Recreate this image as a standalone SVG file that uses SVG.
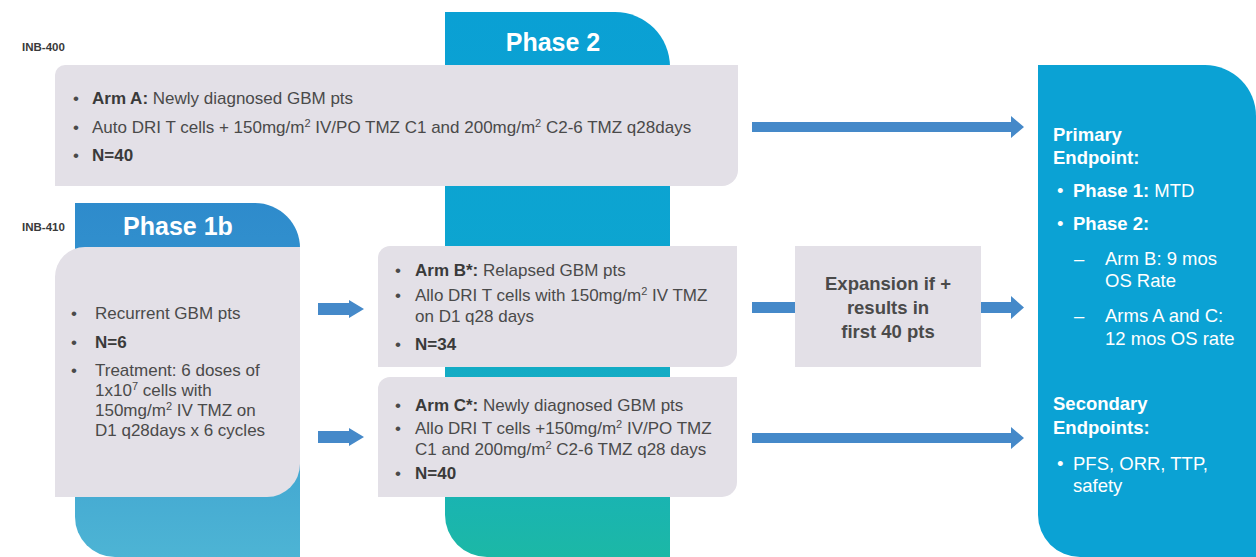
<svg xmlns="http://www.w3.org/2000/svg" width="1256" height="557" viewBox="0 0 1256 557">
<defs>
<linearGradient id="p2grad" gradientUnits="userSpaceOnUse" x1="0" y1="12" x2="0" y2="557">
<stop offset="0" stop-color="#0aa0d4"/>
<stop offset="0.45" stop-color="#0da5d0"/>
<stop offset="0.75" stop-color="#16afc0"/>
<stop offset="1" stop-color="#1cb8a6"/>
</linearGradient>
<linearGradient id="p1grad" gradientUnits="userSpaceOnUse" x1="0" y1="203" x2="0" y2="557">
<stop offset="0" stop-color="#2e8bcc"/>
<stop offset="0.35" stop-color="#3596cf"/>
<stop offset="1" stop-color="#4db4d4"/>
</linearGradient>
<style>
.box{fill:#e3e0e7}
.t{font-family:"Liberation Sans",Arial,sans-serif;font-size:17px;fill:#4a4a4a}
.b{font-weight:bold;fill:#3a3a3a}
.lbl{font-family:"Liberation Sans",Arial,sans-serif;font-size:11.5px;font-weight:bold;fill:#3a3a3a}
.title{font-family:"Liberation Sans",Arial,sans-serif;font-size:25px;font-weight:bold;fill:#fff;text-anchor:middle}
.ep{font-family:"Liberation Sans",Arial,sans-serif;font-size:18.5px;fill:#fff}
.epb{font-weight:bold}
.exp{font-family:"Liberation Sans",Arial,sans-serif;font-size:18.5px;font-weight:bold;fill:#4a4a4a;text-anchor:middle}
.arr{fill:#4589c9}
.sup{font-size:11px}
</style>
</defs>
<rect width="1256" height="557" fill="#ffffff"/>

<g id="phase2-column">
<path d="M445,12 H615 A55,55 0 0 1 670,67 V557 H487 A42,42 0 0 1 445,515 Z" fill="url(#p2grad)"/>
<text class="title" x="553" y="51">Phase 2</text>
</g>

<g id="phase1b-column">
<path d="M75,203 H255 A45,45 0 0 1 300,248 V557 H115 A40,40 0 0 1 75,517 Z" fill="url(#p1grad)"/>
<text class="title" x="178" y="235">Phase 1b</text>
</g>

<g id="inb400">
<text class="lbl" x="22" y="51">INB-400</text>
</g>
<g id="inb410">
<text class="lbl" x="22" y="231">INB-410</text>
</g>

<g id="arm-a">
<path class="box" d="M65,65 H738 V170 A16,16 0 0 1 722,186 H55 V75 A10,10 0 0 1 65,65 Z"/>
<text class="t" x="73" y="104">•</text>
<text class="t" x="92" y="104"><tspan class="b">Arm A:</tspan> Newly diagnosed GBM pts</text>
<text class="t" x="73" y="133">•</text>
<text class="t" x="92" y="133">Auto DRI T cells + 150mg/m<tspan class="sup" dy="-6">2</tspan><tspan dy="6"> IV/PO TMZ C1 and 200mg/m</tspan><tspan class="sup" dy="-6">2</tspan><tspan dy="6"> C2-6 TMZ q28days</tspan></text>
<text class="t" x="73" y="161">•</text>
<text class="t b" x="92" y="161">N=40</text>
</g>

<g id="phase1b-box">
<path class="box" d="M85,247 H300 V464 A33,33 0 0 1 267,497 H55 V277 A30,30 0 0 1 85,247 Z"/>
<text class="t" x="71" y="319">•</text>
<text class="t" x="95" y="319">Recurrent GBM pts</text>
<text class="t" x="71" y="348">•</text>
<text class="t b" x="95" y="348">N=6</text>
<text class="t" x="71" y="376">•</text>
<text class="t" x="95" y="376">Treatment: 6 doses of</text>
<text class="t" x="95" y="396">1x10<tspan class="sup" dy="-6">7</tspan><tspan dy="6"> cells with</tspan></text>
<text class="t" x="95" y="416">150mg/m<tspan class="sup" dy="-6">2</tspan><tspan dy="6"> IV TMZ on</tspan></text>
<text class="t" x="95" y="436">D1 q28days x 6 cycles</text>
</g>

<g id="arm-b">
<path class="box" d="M390,246 H737 V352 A15,15 0 0 1 722,367 H378 V258 A12,12 0 0 1 390,246 Z"/>
<text class="t" x="395" y="276">•</text>
<text class="t" x="415" y="276"><tspan class="b">Arm B*:</tspan> Relapsed GBM pts</text>
<text class="t" x="395" y="301">•</text>
<text class="t" x="415" y="301">Allo DRI T cells with 150mg/m<tspan class="sup" dy="-6">2</tspan><tspan dy="6"> IV TMZ</tspan></text>
<text class="t" x="415" y="322">on D1 q28 days</text>
<text class="t" x="395" y="350">•</text>
<text class="t b" x="415" y="350">N=34</text>
</g>

<g id="arm-c">
<path class="box" d="M390,377 H737 V482 A15,15 0 0 1 722,497 H378 V389 A12,12 0 0 1 390,377 Z"/>
<text class="t" x="395" y="411">•</text>
<text class="t" x="415" y="411"><tspan class="b">Arm C*:</tspan> Newly diagnosed GBM pts</text>
<text class="t" x="395" y="434">•</text>
<text class="t" x="415" y="434">Allo DRI T cells +150mg/m<tspan class="sup" dy="-6">2</tspan><tspan dy="6"> IV/PO TMZ</tspan></text>
<text class="t" x="415" y="455">C1 and 200mg/m<tspan class="sup" dy="-6">2</tspan><tspan dy="6"> C2-6 TMZ q28 days</tspan></text>
<text class="t" x="395" y="479">•</text>
<text class="t b" x="415" y="479">N=40</text>
</g>

<g id="expansion">
<rect class="box" x="795" y="246" width="186" height="121"/>
<text class="exp" x="888" y="290">Expansion if +</text>
<text class="exp" x="888" y="314">results in</text>
<text class="exp" x="888" y="338">first 40 pts</text>
</g>

<g id="endpoints">
<path d="M1038,65 H1205 A51,51 0 0 1 1256,116 V557 H1080 A42,42 0 0 1 1038,515 Z" fill="#0ba2d4"/>
<text class="ep epb" x="1053" y="141">Primary</text>
<text class="ep epb" x="1053" y="164">Endpoint:</text>
<text class="ep" x="1057" y="197">•</text>
<text class="ep" x="1073" y="197"><tspan class="epb">Phase 1:</tspan> MTD</text>
<text class="ep" x="1057" y="230">•</text>
<text class="ep epb" x="1073" y="230">Phase 2:</text>
<text class="ep" x="1074" y="265">–</text>
<text class="ep" x="1105" y="265">Arm B: 9 mos</text>
<text class="ep" x="1105" y="287">OS Rate</text>
<text class="ep" x="1074" y="322">–</text>
<text class="ep" x="1105" y="322">Arms A and C:</text>
<text class="ep" x="1105" y="345">12 mos OS rate</text>
<text class="ep epb" x="1053" y="410">Secondary</text>
<text class="ep epb" x="1053" y="434">Endpoints:</text>
<text class="ep" x="1057" y="470">•</text>
<text class="ep" x="1073" y="470">PFS, ORR, TTP,</text>
<text class="ep" x="1073" y="492">safety</text>
</g>

<g id="connectors">
<polygon class="arr" points="752,122 1011,122 1011,116 1024,127 1011,138 1011,132 752,132"/>
<polygon class="arr" points="318,303 349,303 349,300 364,309 349,318 349,315 318,315"/>
<polygon class="arr" points="318,431 349,431 349,428 364,437 349,446 349,443 318,443"/>
<rect class="arr" x="752" y="302" width="43" height="11"/>
<polygon class="arr" points="981,302 1011,302 1011,296 1024,307.5 1011,319 1011,313 981,313"/>
<polygon class="arr" points="752,433 1011,433 1011,427 1024,438 1011,449 1011,443 752,443"/>
</g>
</svg>
